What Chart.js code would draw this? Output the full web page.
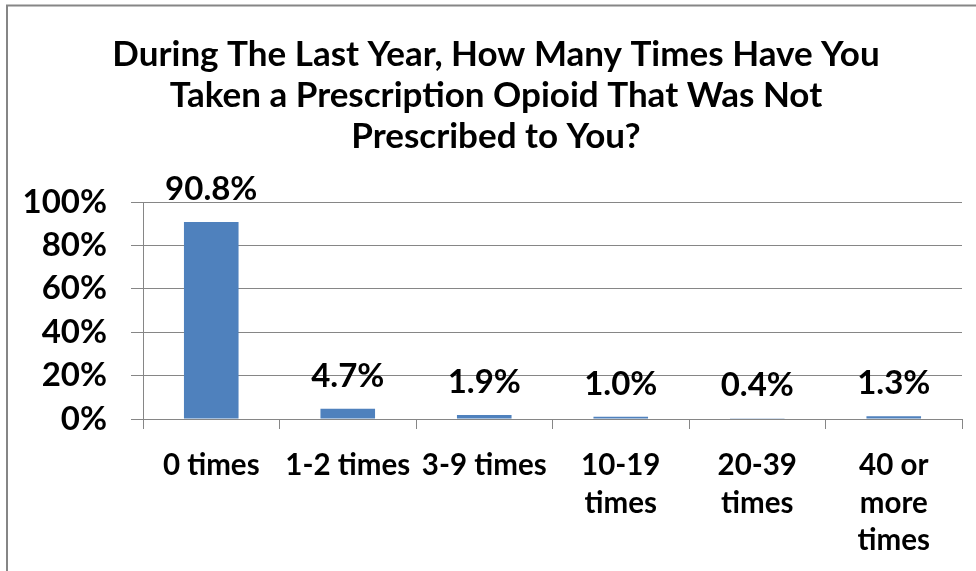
<!DOCTYPE html>
<html>
<head>
<meta charset="utf-8">
<script src="https://cdn.jsdelivr.net/npm/chart.js@4.4.1/dist/chart.umd.min.js"></script>
<style>
  html, body { margin: 0; padding: 0; background: #fff; overflow: hidden; }
  #wrap { width: 976px; height: 571px; }
</style>
</head>
<body>
<div id="wrap"><canvas id="opioidChart" width="976" height="571"></canvas></div>
<script>
// ---------------------------------------------------------------------------
// Data
// ---------------------------------------------------------------------------

const TITLE_LINES = [
  'During The Last Year, How Many Times Have You',
  'Taken a Prescription Opioid That Was Not',
  'Prescribed to You?'
];

// multi-line entries wrap the same way the axis shows them
const categories = [
  '0 times',
  '1-2 times',
  '3-9 times',
  ['10-19', 'times'],
  ['20-39', 'times'],
  ['40 or', 'more', 'times']
];

const percents = [90.8, 4.7, 1.9, 1.0, 0.4, 1.3];

const yTicks = [0, 20, 40, 60, 80, 100];

// ---------------------------------------------------------------------------
// Styling
// ---------------------------------------------------------------------------

const FONT = "Lato, 'Open Sans', sans-serif";
const BAR_COLOR = '#4f81bd';
const LINE_COLOR = '#868686';

// ---------------------------------------------------------------------------
// Plugins
// ---------------------------------------------------------------------------

// Outer frame of the chart object
const framePlugin = {
  id: 'frame',
  beforeDraw(chart) {
    const ctx = chart.ctx;
    ctx.save();
    ctx.fillStyle = '#fff';
    ctx.fillRect(0, 0, chart.width, chart.height);
    ctx.strokeStyle = LINE_COLOR;
    ctx.lineWidth = 2;
    ctx.strokeRect(7, 5.5, chart.width + 20, chart.height + 20);
    ctx.restore();
  }
};

// Percent value printed above each bar
const valueLabels = {
  id: 'valueLabels',
  afterDatasetsDraw(chart) {
    const ctx = chart.ctx;
    const meta = chart.getDatasetMeta(0);
    ctx.save();
    ctx.font = `bold 33px ${FONT}`;
    ctx.fillStyle = '#000';
    ctx.textAlign = 'center';
    ctx.textBaseline = 'alphabetic';
    meta.data.forEach((bar, i) => {
      const value = chart.data.datasets[0].data[i];
      ctx.fillText(value.toFixed(1) + '%', bar.x, bar.y - 22);
    });
    ctx.restore();
  }
};

// ---------------------------------------------------------------------------
// Chart
// ---------------------------------------------------------------------------

function renderChart() {
  const ctx = document.getElementById('opioidChart').getContext('2d');

  new Chart(ctx, {
    type: 'bar',
    data: {
      labels: categories,
      datasets: [{
        data: percents,
        backgroundColor: BAR_COLOR,
        borderWidth: 0,
        categoryPercentage: 1,
        barPercentage: 0.4
      }]
    },
    options: {
      responsive: false,
      animation: false,
      layout: { padding: { left: 16, right: 0, top: 0, bottom: 0 } },
      plugins: {
        legend: { display: false },
        tooltip: { enabled: false },
        title: {
          display: true,
          text: TITLE_LINES,
          color: '#000',
          font: { family: FONT, size: 35, weight: 'bold', lineHeight: '41px' },
          padding: { top: 34, bottom: 45 }
        }
      },
      scales: {
        x: {
          offset: true,
          grid: {
            display: true,
            drawOnChartArea: false,
            drawTicks: true,
            tickLength: 10,
            color: LINE_COLOR,
            offset: true
          },
          border: { display: true, color: LINE_COLOR, width: 1 },
          ticks: {
            color: '#000',
            font: { family: FONT, size: 29.5, weight: 'bold', lineHeight: '37.5px' },
            padding: 18,
            maxRotation: 0,
            autoSkip: false
          },
          afterFit(scale) { scale.height = 152; }
        },
        y: {
          min: 0,
          max: 100,
          afterBuildTicks(scale) {
            scale.ticks = yTicks.map(v => ({ value: v }));
          },
          grid: {
            color: LINE_COLOR,
            tickLength: 12,
            drawTicks: true
          },
          border: { display: true, color: LINE_COLOR, width: 1 },
          ticks: {
            color: '#000',
            font: { family: FONT, size: 33, weight: 'bold' },
            padding: 24,
            callback: v => v + '%'
          },
          afterFit(scale) { scale.width = 127; }
        },
        // empty strip keeping the plot clear of the right frame edge
        yRight: {
          position: 'right',
          display: true,
          grid: { display: false },
          border: { display: false },
          ticks: { display: false },
          afterFit(scale) { scale.width = 14; }
        }
      }
    },
    plugins: [framePlugin, valueLabels]
  });
}

renderChart();
</script>
</body>
</html>
